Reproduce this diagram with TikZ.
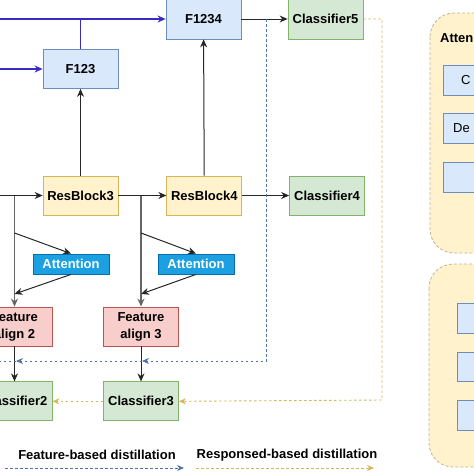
\documentclass[tikz,border=0pt]{standalone}
\usepackage{fontspec}
\setmainfont{Liberation Sans}
\usetikzlibrary{arrows.meta, positioning}
\definecolor{featfill}{HTML}{DAE8FC}
\definecolor{featline}{HTML}{6C8EBF}
\definecolor{resfill}{HTML}{FFF2CC}
\definecolor{resline}{HTML}{D6B656}
\definecolor{clsfill}{HTML}{D5E8D4}
\definecolor{clsline}{HTML}{82B366}
\definecolor{alignfill}{HTML}{F8CECC}
\definecolor{alignline}{HTML}{B85450}
\definecolor{attfill}{HTML}{1BA1E2}
\definecolor{attline}{HTML}{006EAF}
\definecolor{fusecol}{HTML}{3A2AC6}
\definecolor{fdistcol}{HTML}{4F72A8}
\definecolor{rdistcol}{HTML}{D6B656}
\definecolor{panelline}{HTML}{BDB497}
\tikzset{box/.style={rectangle,draw,align=center,minimum width=75pt,minimum height=39pt,inner sep=2pt,line width=0.8pt,font=\fontsize{13}{15}\selectfont\bfseries},
featbox/.style={box,fill=featfill,draw=featline},
resbox/.style={box,fill=resfill,draw=resline},
clsbox/.style={box,fill=clsfill,draw=clsline},
alignbox/.style={box,fill=alignfill,draw=alignline,font=\fontsize{13}{17}\selectfont\bfseries},
attbox/.style={box,fill=attfill,draw=attline,text=white,minimum width=76pt,minimum height=20pt},
label/.style={font=\fontsize{13}{15}\selectfont\bfseries,inner sep=0pt},
line/.style={-{Stealth[length=8pt,width=7pt]},line width=1pt,draw=black!85},
tapline/.style={line,draw=black!60,line width=1.3pt},
fuse/.style={line,draw=fusecol,line width=1.2pt},
featdist/.style={-{Stealth[length=7pt,width=6pt]},line width=0.9pt,draw=fdistcol,dash pattern=on 2.5pt off 2.5pt},
respdist/.style={featdist,draw=rdistcol},
panel/.style={draw=panelline,fill=resfill,line width=0.8pt,dash pattern=on 3pt off 2pt,rounded corners=24pt},
panelbox/.style={draw=featline,fill=featfill,line width=0.8pt}}

\begin{document}
\begin{tikzpicture}[x=1pt,y=-1pt,node distance=35pt and 48pt]
\useasboundingbox (0,0) rectangle (474,474);
\clip (0,0) rectangle (474,474);
% backbone
\node[resbox] (res3) at (80.5,195.5) {ResBlock3};
\node[resbox, right=of res3] (res4) {ResBlock4};
\node[clsbox, right=47pt of res4] (cls4) {Classifier4};
\node[featbox] (f123) at (80.5,69) {F123};
\node[featbox, minimum height=40pt] (f1234) at (203.5,19) {F1234};
\node[clsbox, minimum height=40pt] (cls5) at (325.5,19) {Classifier5};
% branches
\node[alignbox] (fa2) at (14.5,326.5) {Feature\\align 2};
\node[alignbox] (fa3) at (141,326.5) {Feature\\align 3};
\node[clsbox, below=of fa2] (cls2) {Classifier2};
\node[clsbox, below=of fa3] (cls3) {Classifier3};
\node[attbox] (att2) at (71,264) {Attention};
\node[attbox] (att3) at (196,264) {Attention};

\coordinate (in5) at (0,19);
\coordinate (in3) at (0,69);
\coordinate (in2) at (0,195.5);
\coordinate (j2) at (14.5,195.5);
\coordinate (j3) at (141,195.5);
\coordinate (b2) at (14.5,233);
\coordinate (b3) at (141,233);
\coordinate (m2) at (14.5,294);
\coordinate (m3) at (141,294);

\draw[line] (in2) -- (res3);
\draw[line] (res3) -- (res4);
\draw[line] (res4) -- (cls4);
\draw[line] (res3) -- (f123);
\draw[line] (res4) -- (f1234);
\draw[line] (f1234) -- (cls5);
\draw[tapline] (j2) -- (fa2);
\draw[tapline] (j3) -- (fa3);
\draw[line] (b2) -- (att2.north);
\draw[line] (b3) -- (att3.north);
\draw[line] (att2.south) -- (m2);
\draw[line] (att3.south) -- (m3);
\draw[line] (fa2) -- (cls2);
\draw[line] (fa3) -- (cls3);

% fused features
\draw[fuse] (in5) -- (f1234);
\draw[fuse,-] (f123.north) -- (f123.north |- in5);
\draw[fuse] (in3) -- (f123);

% distillation
\coordinate (d5) at (266,19);
\coordinate (t3) at (142,361);
\coordinate (t2) at (16,361);
\coordinate (e2) at (0,361);
\coordinate (r5) at (382,400);
\draw[featdist] (d5) |- (t3);
\draw[featdist] (t3) -- (t2);
\draw[featdist,-] (t2) -- (e2);
\draw[respdist] (cls5.east) -| (r5) -- (cls3.east);
\draw[respdist] (cls3.west) -- (cls2.east);

% legend
\node[label] (lf) at (97,455) {Feature-based distillation};
\node[label] (lr) at (287,455) {Responsed-based distillation};
\coordinate (lf1) at (5,468);
\coordinate (lf2) at (184,468);
\coordinate (lr1) at (196,468);
\coordinate (lr2) at (374,468);
\draw[featdist] (lf1) -- (lf2);
\draw[respdist] (lr1) -- (lr2);

% side panels
\draw[panel] (430,13) rectangle (520,253);
\node[label, anchor=west] (pt) at (440,38) {Atten};
\draw[panelbox] (443,65) rectangle (520,95);
\draw[panelbox] (443,113) rectangle (520,143);
\draw[panelbox] (443,162) rectangle (520,192);
\node[label, font=\fontsize{13}{15}\selectfont, anchor=west] (pc) at (461,80) {C};
\node[label, font=\fontsize{13}{15}\selectfont, anchor=west] (pd) at (453,128) {De};
\draw[panel] (429,264) rectangle (520,467);
\draw[panelbox] (457,303) rectangle (520,333);
\draw[panelbox] (457,352) rectangle (520,381);
\draw[panelbox] (457,400) rectangle (520,430);
\end{tikzpicture}
\end{document}
